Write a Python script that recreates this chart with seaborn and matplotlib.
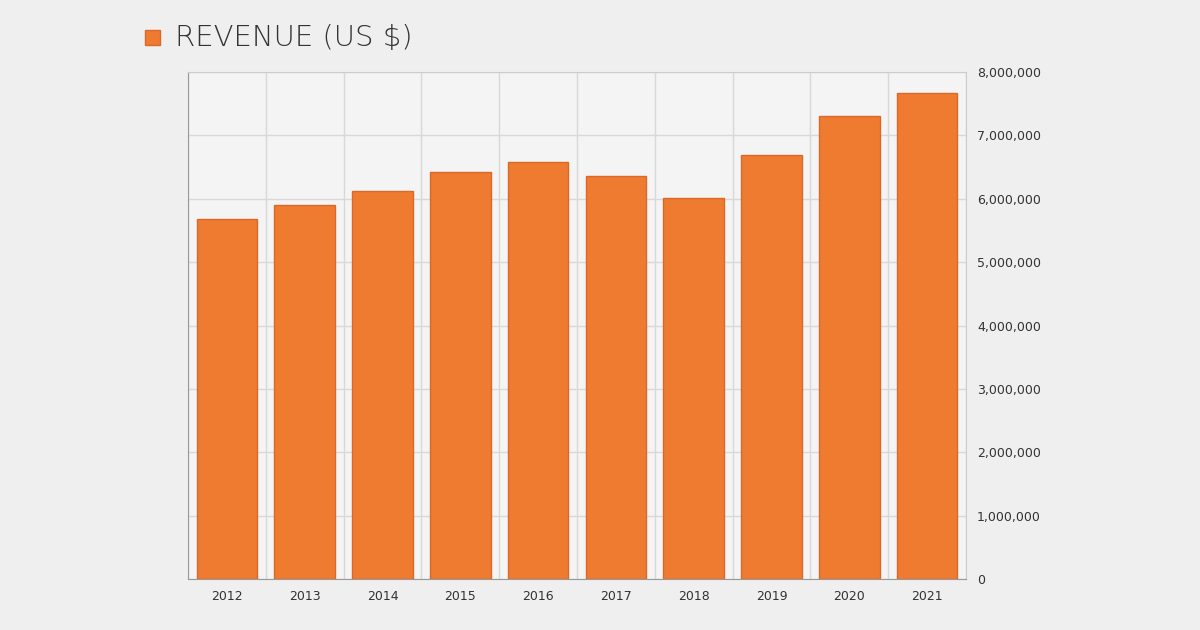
import matplotlib.pyplot as plt
import matplotlib.ticker as mticker
import seaborn as sns
import pandas as pd

years = ["2012", "2013", "2014", "2015", "2016", "2017", "2018", "2019", "2020", "2021"]
revenue = [5680000, 5900000, 6120000, 6420000, 6580000, 6360000, 6010000, 6690000, 7310000, 7670000]
y_ticks = [0, 1000000, 2000000, 3000000, 4000000, 5000000, 6000000, 7000000, 8000000]

df = pd.DataFrame({"Year": years, "Revenue": revenue})

sns.set_style("white")
fig = plt.figure(figsize=(12, 6.3), dpi=100)
fig.patch.set_facecolor("#efefef")
ax = fig.add_axes([188 / 1200, 1 - 579 / 630, (966 - 188) / 1200, (579 - 72) / 630])
ax.set_facecolor("#f4f4f4")

sns.barplot(data=df, x="Year", y="Revenue", color="#ef7b31", edgecolor="#d9692a",
            linewidth=1, width=0.78, saturation=1, ax=ax, zorder=3)

ax.set_ylim(0, 8000000)
ax.set_xlim(-0.5, len(years) - 0.5)
ax.set_yticks(y_ticks)
ax.yaxis.set_major_formatter(mticker.FuncFormatter(lambda v, p: f"{int(v):,}"))
ax.yaxis.tick_right()
ax.set_xticks(range(len(years)))
ax.set_xticks([i - 0.5 for i in range(len(years) + 1)], minor=True)
ax.grid(axis="y", which="major", color="#d8d8d8", linewidth=1, zorder=0)
ax.grid(axis="x", which="minor", color="#d8d8d8", linewidth=1, zorder=0)
ax.tick_params(axis="both", which="both", length=0, labelsize=9, colors="#333333", pad=8)
ax.set_xlabel("")
ax.set_ylabel("")
for side in ["top", "right"]:
    ax.spines[side].set_color("#cccccc")
for side in ["left", "bottom"]:
    ax.spines[side].set_color("#999999")

fig.patches.append(plt.Rectangle((145 / 1200, 1 - 45 / 630), 15 / 1200, 15 / 630,
                                 transform=fig.transFigure, facecolor="#ef7b31",
                                 edgecolor="#d9692a", figure=fig))
fig.text(175 / 1200, 1 - 38 / 630, "REVENUE (US $)", fontsize=21, color="#333333",
         va="center", ha="left", family="DejaVu Sans", fontweight="light")

fig.savefig("out.png", dpi=100, facecolor=fig.get_facecolor())
